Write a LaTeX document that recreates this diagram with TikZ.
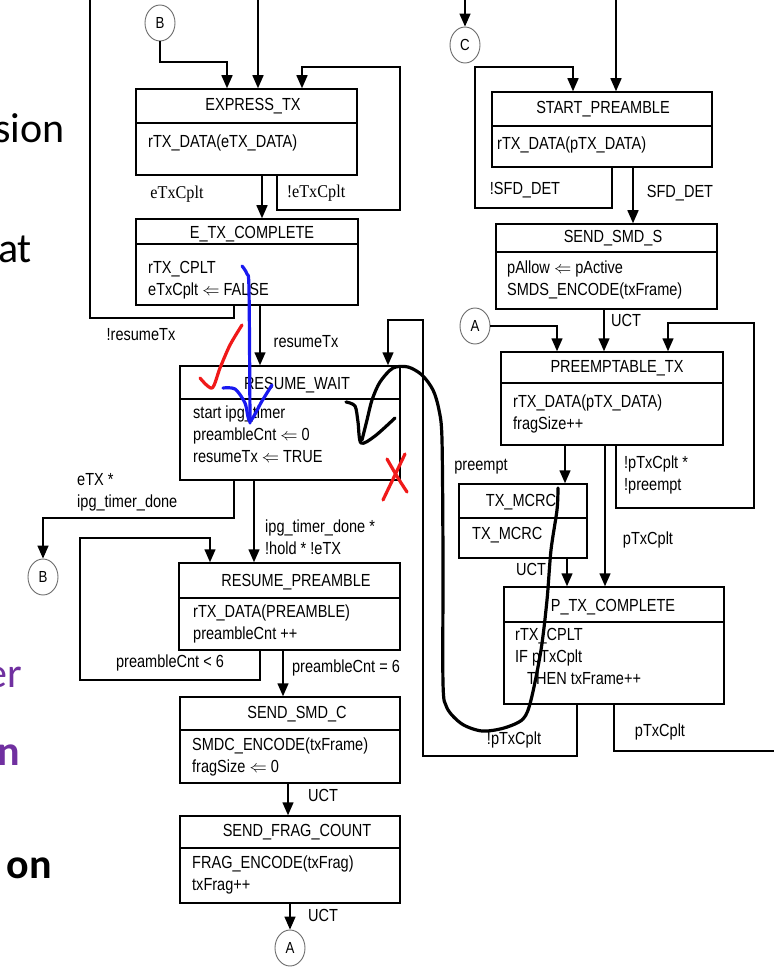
\documentclass[tikz,border=0pt]{standalone}
\usepackage{fontspec}
\usepackage{xcolor}
\usetikzlibrary{positioning, arrows.meta, shapes.geometric, fit}
\newfontfamily\diagfont[FakeStretch=0.83]{Liberation Sans}
\newfontfamily\lblserif[FakeStretch=0.9]{Liberation Serif}
\newfontfamily\slidefont{Carlito}
\definecolor{slidePurple}{RGB}{112, 48, 160}
\definecolor{inkRed}{RGB}{240, 25, 25}
\definecolor{inkBlue}{RGB}{25, 25, 240}

\begin{document}
\begin{tikzpicture}[x=1pt, y=-1pt,
        font=\diagfont\fontsize{17.5}{22}\selectfont,
        box/.style={draw, line width=1.5pt, inner sep=0pt},
        hdr/.style={anchor=base, inner sep=0pt},
        body/.style={anchor=north west, inner sep=0pt, align=left,
            execute at begin node=\rule{0pt}{13pt}},
        lbl/.style={inner sep=0pt},
        conn/.style={ellipse, draw=gray!85!black, line width=0.9pt, minimum width=30pt,
            minimum height=36pt, inner sep=0pt, font=\diagfont\fontsize{16}{16}\selectfont},
        frag/.style={anchor=base east, inner sep=0pt, font=\slidefont\fontsize{42}{48}\selectfont},
        wire/.style={line width=1.5pt},
        arr/.style={-{Triangle[length=13pt, width=11pt]}, line width=1.5pt},
        ink/.style={line width=3.2pt, line cap=round, line join=round}
    ]
    \fill[white] (0,0) rectangle (774,968);
    \useasboundingbox (0,0) rectangle (774,968);

    % state frames with their header rule
    \foreach \n/\xa/\ya/\xb/\yb/\yd in {express/136/89/357/175/123, etxc/136/219/358/305/244,
        rwait/180/366/400/480/399, rpre/179/563/400/650/598, smdc/180/697/400/783/730,
        sfc/180/816/400/903/848, spre/492/92/712/167/126, smds/496/224/717/309/252,
        ptx/501/352/723/445/383, mcrc/459/484/587/558/518, ptxc/504/587/724/704/622} {
        \node[box, fit={(\xa,\ya) (\xb,\yb)}] (\n) {};
        \draw[wire] (\n.west |- 0,\yd) -- (\n.east |- 0,\yd);
    }
    \foreach \n/\hx/\hy/\txt in {express/253/111/EXPRESS\_TX, etxc/252/239/E\_TX\_COMPLETE,
        rwait/297/389/RESUME\_WAIT, rpre/296/586/RESUME\_PREAMBLE, smdc/297/718/SEND\_SMD\_C,
        sfc/297/836/SEND\_FRAG\_COUNT, spre/603/114/START\_PREAMBLE, smds/613/243/SEND\_SMD\_S,
        ptx/617/372/PREEMPTABLE\_TX, mcrc/521/506/TX\_MCRC, ptxc/613/611/P\_TX\_COMPLETE}
        \node[hdr] (\n-hd) at (\hx,\hy) {\txt};
    \foreach \n/\bx/\by/\txt in {express/148/134/{rTX\_DATA(eTX\_DATA)},
        etxc/148/261/{rTX\_CPLT\\eTxCplt $\Leftarrow$ FALSE},
        rwait/193/406/{start ipg\_timer\\preambleCnt $\Leftarrow$ 0\\resumeTx $\Leftarrow$ TRUE},
        rpre/193/605/{rTX\_DATA(PREAMBLE)\\preambleCnt ++},
        smdc/192/738/{SMDC\_ENCODE(txFrame)\\fragSize $\Leftarrow$ 0},
        sfc/192/856/{FRAG\_ENCODE(txFrag)\\txFrag++},
        spre/497/136/{rTX\_DATA(pTX\_DATA)},
        smds/507/261/{pAllow $\Leftarrow$ pActive\\SMDS\_ENCODE(txFrame)},
        ptx/513/395/{rTX\_DATA(pTX\_DATA)\\fragSize++},
        mcrc/472/526/{TX\_MCRC},
        ptxc/515/628/{rTX\_CPLT\\IF pTxCplt\\\hspace*{12pt}THEN txFrame++}}
        \node[body] (\n-bd) at (\bx,\by) {\txt};

    % off-page connectors
    \node[conn] (btop) at (160,23) {B};
    \node[conn] (cnode) at (465,45) {C};
    \node[conn] (aright) at (475,326) {A};
    \node[conn] (bleft) at (43,577) {B};
    \node[conn] (abot) at (290,948) {A};
    \coordinate (topA) at (258,0);
    \coordinate (topB) at (90,0);
    \coordinate (topC) at (465,0);
    \coordinate (topD) at (616,0);
    \coordinate (rightEnd) at (774,751);

    % transitions, left column
    \draw[arr] (btop.south) |- (227,62) -- (express.north -| 227,0);
    \draw[arr] (topA) -- (topA |- express.north);
    \draw[arr] (express.south -| 277,0) -- (277,210) -| (400,67) -| (express.north -| 302,0);
    \draw[arr] (express.south -| 262,0) -- (etxc.north -| 262,0);
    \draw[wire] (etxc.south -| 234,0) |- (90,318) -- (topB);
    \draw[arr] (etxc.south -| 260,0) -- (rwait.north -| 260,0);
    \draw[arr] (rwait.south -| 234,0) |- (43,518) -- (bleft.north);
    \draw[arr] (rwait.south -| 254,0) -- (rpre.north -| 254,0);
    \draw[arr] (rpre.south -| 260,0) -- (260,680) -| (80,538) -| (rpre.north -| 210,0);
    \draw[arr] (rpre.south -| 283,0) -- (smdc.north -| 283,0);
    \draw[arr] (smdc.south -| 288,0) -- (sfc.north -| 288,0);
    \draw[arr] (sfc.south -| 290,0) -- (abot.north);

    % transitions, right column
    \draw[arr] (topC) -- (cnode.north);
    \draw[arr] (topD) -- (topD |- spre.north);
    \draw[arr] (spre.south -| 612,0) -- (612,208) -| (475,67) -| (spre.north -| 573,0);
    \draw[arr] (spre.south -| 633,0) -- (smds.north -| 633,0);
    \draw[arr] (smds.south -| 604,0) -- (ptx.north -| 604,0);
    \draw[arr] (aright.east) -| (ptx.north -| 557,0);
    \draw[arr] (ptx.south -| 616,0) -- (616,508) -| (754,323) -| (ptx.north -| 668,0);
    \draw[arr] (ptx.south -| 565,0) -- (mcrc.north -| 565,0);
    \draw[arr] (ptx.south -| 605,0) -- (ptxc.north -| 605,0);
    \draw[arr] (mcrc.south -| 567,0) -- (ptxc.north -| 567,0);
    \draw[arr] (ptxc.south -| 577,0) -- (577,756) -| (423,320) -| (rwait.north -| 388,0);
    \draw[wire] (ptxc.south -| 614,0) |- (rightEnd);

    % transition labels
    \node[lbl, font=\lblserif\fontsize{18}{22}\selectfont] (l-ecplt) at (177,194) {eTxCplt};
    \node[lbl, font=\lblserif\fontsize{18}{22}\selectfont] (l-necplt) at (316,193) {!eTxCplt};
    \node[lbl] (l-nres) at (141,335) {!resumeTx};
    \node[lbl] (l-res) at (306,342) {resumeTx};
    \node[body] (l-etx) at (77,473) {eTX *\\ipg\_timer\_done};
    \node[body] (l-ipg) at (265,520) {ipg\_timer\_done *\\!hold * !eTX};
    \node[lbl] (l-plt) at (170,663) {preambleCnt < 6};
    \node[lbl] (l-peq) at (346,668) {preambleCnt = 6};
    \node[lbl] (l-uct1) at (323,795) {UCT};
    \node[lbl] (l-uct2) at (323,915) {UCT};
    \node[lbl] (l-nsfd) at (525,190) {!SFD\_DET};
    \node[lbl] (l-sfd) at (680,193) {SFD\_DET};
    \node[lbl] (l-uct3) at (626,320) {UCT};
    \node[lbl] (l-pre) at (481,467) {preempt};
    \node[body] (l-npre) at (624,456) {!pTxCplt *\\!preempt};
    \node[lbl] (l-cplt1) at (648,540) {pTxCplt};
    \node[lbl] (l-uct4) at (531,569) {UCT};
    \node[lbl] (l-ncplt) at (514,740) {!pTxCplt};
    \node[lbl] (l-cplt2) at (660,732) {pTxCplt};

    % slide text cut off at the left edge
    \node[frag] (f-sion) at (65,143) {sion};
    \node[frag] (f-at) at (32,262) {at};
    \node[frag, text=slidePurple] (f-er) at (22,687) {er};
    \node[frag, text=slidePurple] (f-n) at (20,765) {\bfseries n};
    \node[frag] (f-on) at (52,878) {\bfseries on};

    % hand-drawn marks
    \draw[ink, inkRed] plot[smooth] coordinates {(200,378) (212,388) (220,368) (230,345) (242,325)};
    \draw[ink, inkBlue] plot[smooth] coordinates {(242,266) (247,274) (249,290) (250,423)};
    \draw[ink, inkBlue] plot[smooth] coordinates {(223,388) (235,389) (245,403) (250,421) (262,401) (272,385)};
    \draw[ink, inkRed] (405,454) -- (383,500);
    \draw[ink, inkRed] plot[smooth] coordinates {(387,459) (398,478) (407,492)};
    \draw[ink] plot[smooth] coordinates {(346,402) (355,406) (358,422) (361,443) (375,436) (395,418)};
    \draw[ink] plot[smooth] coordinates {(362,440) (367,420) (372,400) (380,382) (393,368) (408,367)
        (422,375) (433,390) (439,410) (442,440) (443,560) (443,683) (447,708) (462,724) (482,731)
        (504,728) (523,719) (531,700) (541,650) (547,600) (551,550) (557,510) (558,488)};
\end{tikzpicture}
\end{document}
